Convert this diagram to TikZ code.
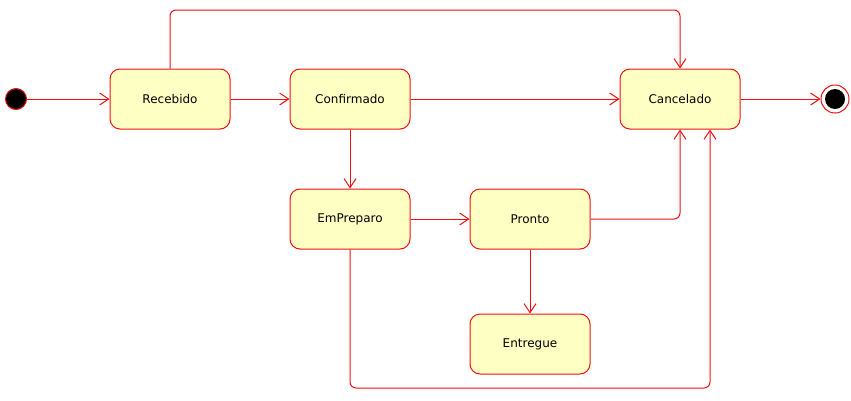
\documentclass[tikz,border=0pt]{standalone}
\usepackage{fontspec}
\setmainfont{DejaVu Sans}
\usetikzlibrary{arrows.meta}
\definecolor{statefill}{HTML}{FEFFC2}
\definecolor{stateline}{HTML}{EE1111}

\begin{document}
\begin{tikzpicture}[x=1pt, y=-1pt, line width=1pt,
    state/.style={draw=stateline, fill=statefill, rounded corners=10pt,
        minimum width=120pt, minimum height=60pt, font=\fontsize{12}{14}\selectfont},
    trans/.style={draw=stateline, -{Straight Barb[length=9pt, width=12pt]}, rounded corners=6pt}]
    \useasboundingbox (0,0) rectangle (851,400);
    % initial and final states
    \node[circle, draw=stateline, fill=black, minimum size=21pt, inner sep=0pt] (inicio) at (16,99) {};
    \node[circle, draw=stateline, minimum size=28pt, inner sep=0pt] (fim) at (835,99) {};
    \fill[black] (fim.center) circle (10pt);
    % states
    \node[state] (recebido) at (170,99) {Recebido};
    \node[state] (confirmado) at (350,99) {Confirmado};
    \node[state] (cancelado) at (680,99) {Cancelado};
    \node[state] (empreparo) at (350,219) {EmPreparo};
    \node[state] (pronto) at (530,219) {Pronto};
    \node[state] (entregue) at (530,344) {Entregue};
    % bend points
    \coordinate (topo) at (170,10);
    \coordinate (base) at (350,388);
    \coordinate (cancelado2) at ([xshift=30pt]cancelado.south);
    % transitions
    \draw[trans] (inicio) -- (recebido);
    \draw[trans] (recebido) -- (confirmado);
    \draw[trans] (confirmado) -- (cancelado);
    \draw[trans] (cancelado) -- (fim);
    \draw[trans] (confirmado) -- (empreparo);
    \draw[trans] (empreparo) -- (pronto);
    \draw[trans] (pronto) -- (entregue);
    \draw[trans] (recebido.north) -- (topo) -| (cancelado.north);
    \draw[trans] (pronto.east) -| (cancelado.south);
    \draw[trans] (empreparo.south) -- (base) -| (cancelado2);
\end{tikzpicture}
\end{document}
